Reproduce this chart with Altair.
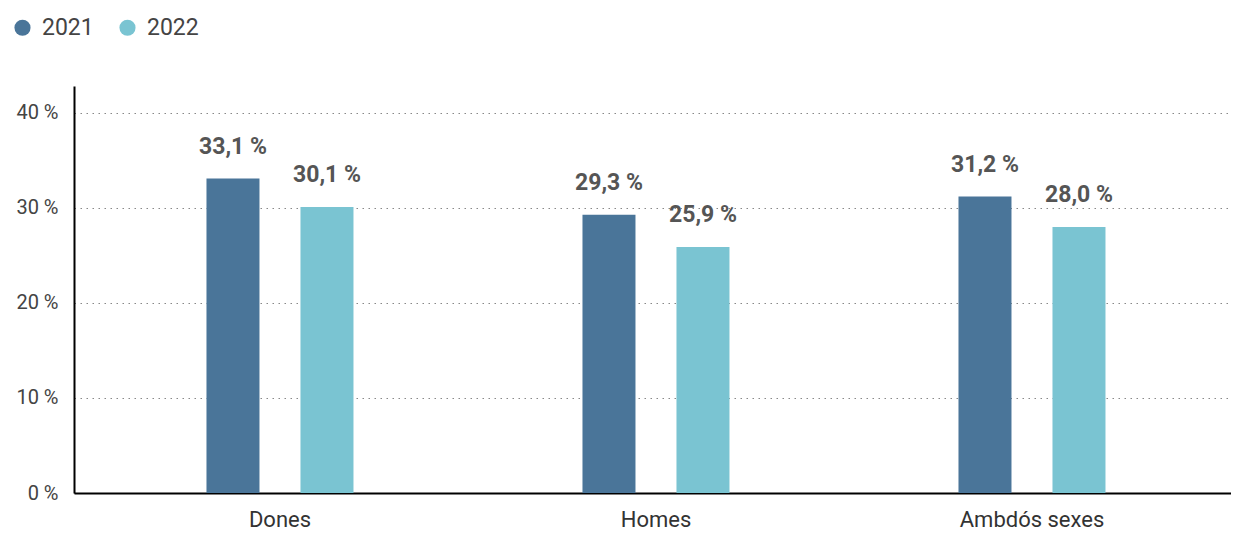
import altair as alt
import pandas as pd

groups = ["Dones", "Homes", "Ambdós sexes"]
years = ["2021", "2022"]
v2021 = [33.1, 29.3, 31.2]
v2022 = [30.1, 25.9, 28.0]
colors = ["#4a7599", "#7ac4d2"]

rows = []
for g, a, b in zip(groups, v2021, v2022):
    rows.append({"grup": g, "any": "2021", "valor": a})
    rows.append({"grup": g, "any": "2022", "valor": b})
df = pd.DataFrame(rows)
df["etiqueta"] = df["valor"].map(lambda v: f"{v:.1f}".replace(".", ",") + " %")

FONT = "Roboto"

x = alt.X("grup:N", sort=groups, title=None,
          scale=alt.Scale(paddingInner=0, paddingOuter=0.03856, align=0.62),
          axis=alt.Axis(labelAngle=0, ticks=False, labelFontSize=22, labelColor="#333333",
                        labelFont=FONT, labelPadding=16, domainColor="#000000", domainWidth=2,
                        grid=False))
xo = alt.XOffset("any:N", sort=years,
                 scale=alt.Scale(paddingInner=0, paddingOuter=1))
y = alt.Y("valor:Q", title=None,
          scale=alt.Scale(domain=[0, 42.84], nice=False),
          axis=alt.Axis(values=[0, 10, 20, 30, 40], labelExpr="datum.value + ' %'",
                        labelFontSize=20, labelColor="#444444", labelFont=FONT,
                        ticks=False, labelPadding=16, domainColor="#000000", domainWidth=2,
                        gridColor="#888888", gridDash=[1.5, 4.5], gridWidth=1.2))
color = alt.Color("any:N", sort=years, title=None,
                  scale=alt.Scale(domain=years, range=colors),
                  legend=alt.Legend(orient="none", legendX=-63, legendY=-70, direction="horizontal",
                                    symbolType="circle", symbolSize=260, symbolStrokeWidth=0,
                                    labelFontSize=23, labelColor="#444444", labelFont=FONT,
                                    labelOffset=8, columnPadding=22, padding=0))

bars = alt.Chart(df).mark_bar(width=53).encode(x=x, xOffset=xo, y=y, color=color)
text = alt.Chart(df).mark_text(baseline="bottom", dy=-20, fontSize=23, fontWeight="bold",
                               color="#555555", font=FONT).encode(
    x=alt.X("grup:N", sort=groups), xOffset=xo, y="valor:Q", text="etiqueta:N")

chart = alt.layer(bars, text).properties(
    width=1157, height=407,
    background="#ffffff",
    autosize=alt.AutoSizeParams(type="none"),
    padding={"left": 66, "top": 78, "right": 0, "bottom": 37},
).configure_view(stroke=None, strokeWidth=0)

chart.save("out.html", embed_options={"renderer": "svg", "actions": False})
